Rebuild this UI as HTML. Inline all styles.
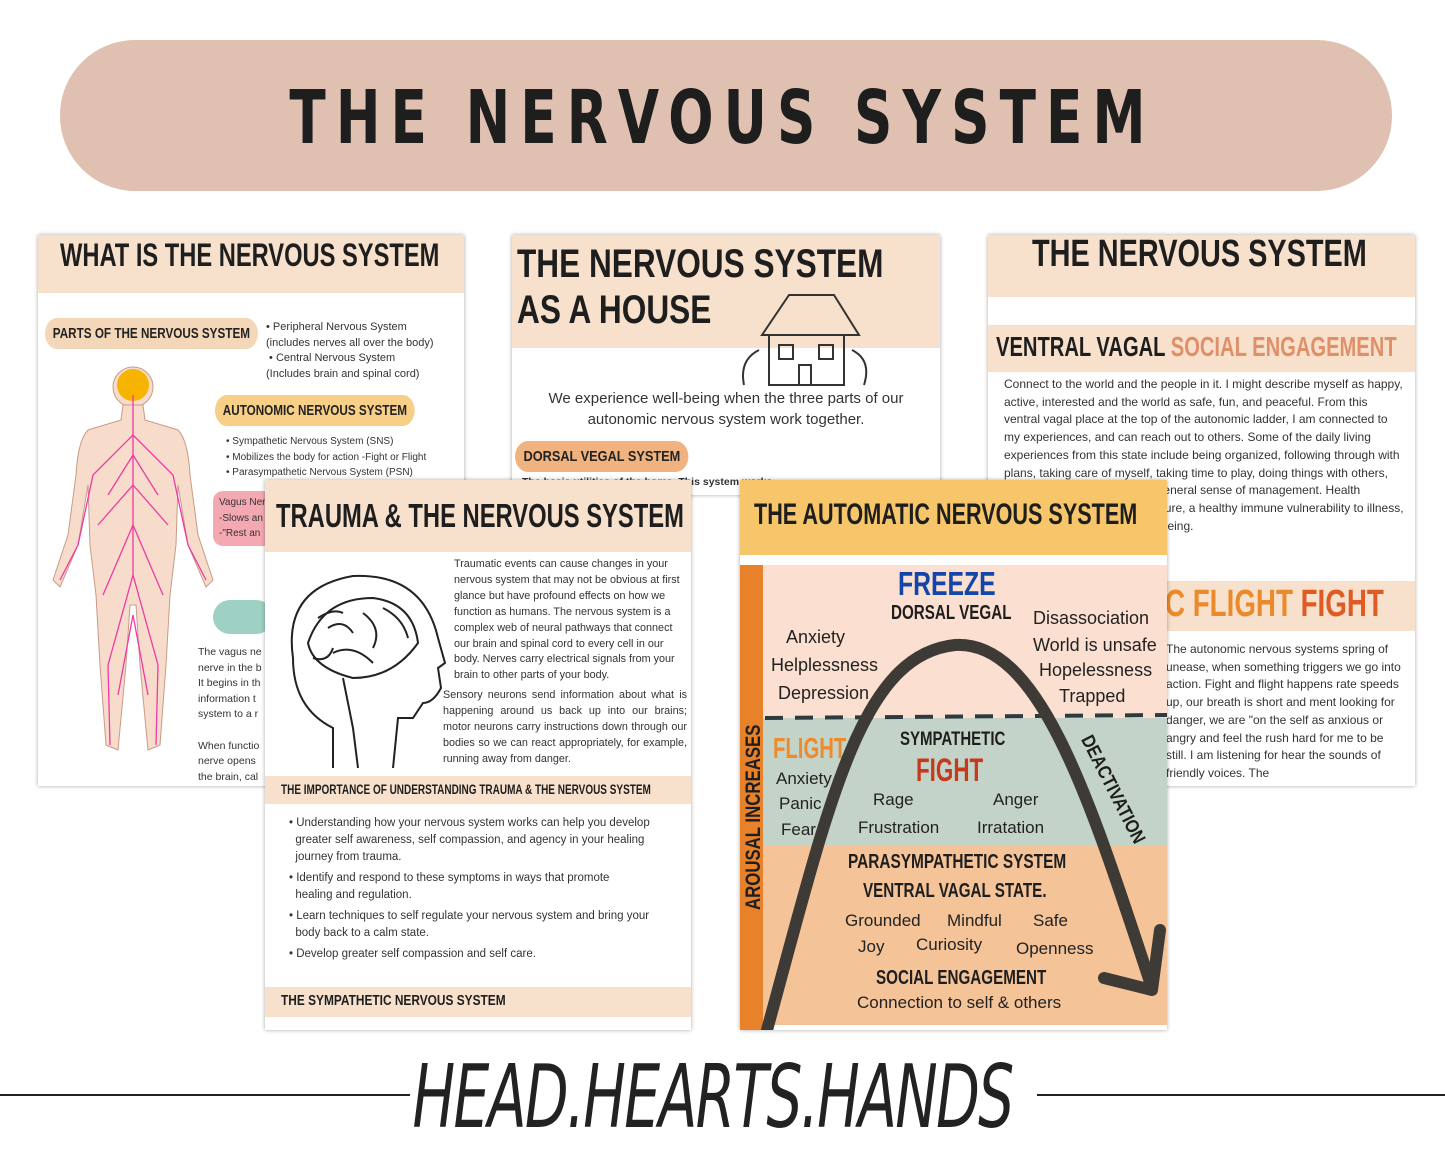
<!DOCTYPE html>
<html><head><meta charset="utf-8"><style>
*{margin:0;padding:0;box-sizing:border-box}
body{width:1445px;height:1156px;background:#fff;position:relative;overflow:hidden;font-family:"Liberation Sans",sans-serif;color:#222}
.a{position:absolute}
.card{position:absolute;background:#fff;box-shadow:0 0 4px rgba(0,0,0,.35);overflow:hidden}
.h{font-family:"Liberation Sans",sans-serif;font-weight:bold;color:#1e1e1e;white-space:nowrap;transform-origin:0 0}
.t{font-size:11px;line-height:15.6px;color:#333}
.pill{position:absolute;border-radius:16px;background:#f7cf86;font-family:"Liberation Sans",sans-serif;font-weight:bold;font-size:15px;padding:7px 10px;white-space:nowrap;transform-origin:0 0}
.w{position:absolute;font-size:18px;color:#222;white-space:nowrap}
</style></head><body>

<div class="a" style="left:60px;top:40px;width:1332px;height:151px;border-radius:75px;background:#e0c1b1"></div>
<div class="a" style="left:0;top:75px;width:1445px;text-align:center;font-size:74px;letter-spacing:14px;font-weight:bold;color:#1e1e1e;font-family:'DejaVu Sans','Liberation Sans',sans-serif;transform:scaleX(.72);white-space:nowrap">THE NERVOUS SYSTEM</div>

<!-- card 1 -->
<div class="card" style="left:38px;top:235px;width:426px;height:551px">
 <div class="a" style="left:0;top:0;width:426px;height:58px;background:#f7e1cc"></div>
 <div class="a h" style="left:22px;top:2px;font-size:32px;transform:scaleX(.74)">WHAT IS THE NERVOUS SYSTEM</div>
 <div class="pill" style="left:7px;top:83px;background:#f4d7b9;transform:scaleX(.78)">PARTS OF THE NERVOUS SYSTEM</div>
 <div class="a t" style="left:228px;top:85px">• Peripheral Nervous System<br>(includes nerves all over the body)<br>&nbsp;• Central Nervous System<br>(Includes brain and spinal cord)</div>
 <div class="pill" style="left:177px;top:160px;transform:scaleX(.78)">AUTONOMIC NERVOUS SYSTEM</div>
 <div class="a t" style="left:188px;top:199px;font-size:10px">• Sympathetic Nervous System (SNS)<br>• Mobilizes the body for action -Fight or Flight<br>• Parasympathetic Nervous System (PSN)</div>
 <div class="a" style="left:175px;top:256px;width:60px;height:55px;background:#f4a9b2;border-radius:10px"></div>
 <div class="a t" style="left:181px;top:260px;font-size:10px">Vagus Ner<br>-Slows an<br>-"Rest an</div>
 <div class="a" style="left:175px;top:365px;width:60px;height:34px;background:#9fd0c4;border-radius:17px"></div>
 <div class="a t" style="left:160px;top:410px;font-size:10.5px">The vagus ne<br>nerve in the b<br>It begins in th<br>information t<br>system to a r<br><br>When functio<br>nerve opens<br>the brain, cal</div>
 <svg class="a" style="left:10px;top:130px" width="170" height="400" viewBox="0 0 170 400">
  <g fill="#f8dccb" stroke="#c89a88" stroke-width="1">
   <circle cx="85" cy="22" r="20"/>
   <path d="M75 40 L95 40 L97 55 L130 65 Q140 75 142 110 L150 170 L165 215 L158 222 L140 180 L130 120 L128 180 L122 230 L118 300 L112 380 L100 385 L92 300 L88 240 L82 240 L78 300 L70 385 L58 380 L52 300 L48 230 L42 180 L40 120 L30 180 L12 222 L5 215 L20 170 L28 110 Q30 75 40 65 L73 55 Z"/>
  </g>
  <circle cx="85" cy="20" r="16" fill="#f6b400"/>
  <g stroke="#ec3aa6" stroke-width="1.3" fill="none">
   <path d="M85 30 L85 210"/>
   <path d="M85 70 L45 110 L30 180 L12 215 M85 70 L125 110 L140 180 L158 215 M85 210 L60 300 L62 380 M85 210 L110 300 L108 380 M85 120 L50 160 M85 120 L120 160 M85 160 L55 230 M85 160 L115 230 M85 90 L60 130 M85 90 L110 130 M85 250 L70 330 M85 250 L100 330"/>
  </g>
 </svg>
</div>

<!-- card 2 -->
<div class="card" style="left:512px;top:235px;width:428px;height:260px">
 <div class="a" style="left:0;top:0;width:428px;height:113px;background:#f7e1cc"></div>
 <div class="a h" style="left:5px;top:6px;font-size:40px;line-height:46px;transform:scaleX(.79)">THE NERVOUS SYSTEM<br>AS A HOUSE</div>
 <svg class="a" style="left:222px;top:55px" width="140" height="100"><g fill="none" stroke="#333" stroke-width="2"><path d="M28 45 L55 5 L100 5 L125 45 Z M35 45 L35 95 L110 95 L110 45"/><rect x="45" y="55" width="14" height="14"/><rect x="85" y="55" width="14" height="14"/><rect x="65" y="75" width="12" height="20"/><path d="M10 95 Q5 70 25 60 M130 95 Q138 70 118 60"/></g></svg>
 <div class="a" style="left:0;top:153px;width:428px;text-align:center;font-size:15px;line-height:21px;color:#333">We experience well-being when the three parts of our<br>autonomic nervous system work together.</div>
 <div class="pill" style="left:3px;top:206px;background:#f0b27e;transform:scaleX(.85)">DORSAL VEGAL SYSTEM</div>
 <div class="a t" style="left:10px;top:240px;font-size:10.5px;font-weight:bold">The basic utilities of the home. This system works</div>
</div>

<!-- card 3 -->
<div class="card" style="left:988px;top:235px;width:427px;height:551px">
 <div class="a" style="left:0;top:0;width:427px;height:62px;background:#f7e1cc"></div>
 <div class="a h" style="left:44px;top:-2px;font-size:38px;transform:scaleX(.76)">THE NERVOUS SYSTEM</div>
 <div class="a" style="left:0;top:90px;width:427px;height:47px;background:#f7e1cc"></div>
 <div class="a h" style="left:8px;top:96px;font-size:28px;transform:scaleX(.72)">VENTRAL VAGAL <span style="color:#e09069">SOCIAL ENGAGEMENT</span></div>
 <div class="a t" style="left:16px;top:141px;font-size:12px;line-height:17.7px;width:400px">Connect to the world and the people in it. I might describe myself as happy, active, interested and the world as safe, fun, and peaceful. From this ventral vagal place at the top of the autonomic ladder, I am connected to my experiences, and can reach out to others. Some of the daily living experiences from this state include being organized, following through with plans, taking care of myself, taking time to play, doing things with others, feeling productive at work, a general sense of management. Health benefits regulated blood pressure, a healthy immune vulnerability to illness, good digestion, quality of wellbeing.</div>
 <div class="a" style="left:0;top:346px;width:427px;height:50px;background:#f7e1cc"></div>
 <div class="a h" style="left:177px;top:348px;font-size:38px;color:#ea8a2a;transform:scaleX(.73)">C FLIGHT <span style="color:#e05a24">FIGHT</span></div>
 <div class="a t" style="left:178px;top:406px;font-size:12px;line-height:17.7px;width:240px">The autonomic nervous systems spring of unease, when something triggers we go into action. Fight and flight happens rate speeds up, our breath is short and ment looking for danger, we are "on the self as anxious or angry and feel the rush hard for me to be still. I am listening for hear the sounds of friendly voices. The</div>
</div>

<!-- card 4 -->
<div class="card" style="left:265px;top:480px;width:426px;height:550px">
 <div class="a" style="left:0;top:0;width:426px;height:72px;background:#f7e1cc"></div>
 <div class="a h" style="left:11px;top:17px;font-size:33px;transform:scaleX(.72)">TRAUMA &amp; THE NERVOUS SYSTEM</div>
 <svg class="a" style="left:8px;top:88px" width="180" height="200"><g fill="none" stroke="#222" stroke-width="2"><path d="M20 90 Q10 20 80 8 Q150 5 165 70 L172 95 L165 100 L168 120 Q160 135 150 135 L140 150 L125 150 L120 200"/><path d="M60 200 L60 160 Q20 140 20 90"/><path d="M35 75 Q50 30 100 30 Q140 35 145 75 Q120 110 80 110 Q40 100 35 75Z"/><path d="M55 60 Q70 50 80 65 M90 45 Q110 60 100 80 M60 85 Q80 75 100 95 M70 110 L80 160 L85 200 M45 50 Q60 40 70 45 M110 40 Q130 50 135 70 M40 90 Q55 95 60 80"/></g></svg>
 <div class="a t" style="left:189px;top:77px;font-size:10.8px;line-height:15.9px;width:232px">Traumatic events can cause changes in your nervous system that may not be obvious at first glance but have profound effects on how we function as humans. The nervous system is a complex web of neural pathways that connect our brain and spinal cord to every cell in our body. Nerves carry electrical signals from your brain to other parts of your body.</div>
 <div class="a t" style="left:178px;top:208px;font-size:10.8px;line-height:15.9px;width:244px;text-align:justify">Sensory neurons send information about what is happening around us back up into our brains; motor neurons carry instructions down through our bodies so we can react appropriately, for example, running away from danger.</div>
 <div class="a" style="left:0;top:296px;width:426px;height:28px;background:#f7e1cc"></div>
 <div class="a h" style="left:16px;top:302px;font-size:13.5px;transform:scaleX(.74)">THE IMPORTANCE OF UNDERSTANDING TRAUMA &amp; THE NERVOUS SYSTEM</div>
 <div class="a t" style="left:24px;top:335px;font-size:11.5px;line-height:17px;width:395px">• Understanding how your nervous system works can help you develop<br>&nbsp;&nbsp;greater self awareness, self compassion, and agency in your healing<br>&nbsp;&nbsp;journey from trauma.<br><div style="height:4px"></div>• Identify and respond to these symptoms in ways that promote<br>&nbsp;&nbsp;healing and regulation.<br><div style="height:4px"></div>• Learn techniques to self regulate your nervous system and bring your<br>&nbsp;&nbsp;body back to a calm state.<br><div style="height:4px"></div>• Develop greater self compassion and self care.</div>
 <div class="a" style="left:0;top:507px;width:426px;height:30px;background:#f7e1cc"></div>
 <div class="a h" style="left:16px;top:513px;font-size:14.5px;transform:scaleX(.82)">THE SYMPATHETIC NERVOUS SYSTEM</div>
</div>

<!-- card 5 -->
<div class="card" style="left:740px;top:480px;width:427px;height:550px">
 <div class="a" style="left:0;top:0;width:427px;height:75px;background:#f8c66a"></div>
 <div class="a h" style="left:14px;top:18px;font-size:30px;transform:scaleX(.72)">THE AUTOMATIC NERVOUS SYSTEM</div>
 <div class="a" style="left:0;top:85px;width:427px;height:153px;background:#fbe0d1"></div>
 <div class="a" style="left:0;top:238px;width:427px;height:127px;background:#c4d3c8"></div>
 <div class="a" style="left:0;top:365px;width:427px;height:180px;background:#f4c398"></div>
 <div class="a" style="left:0;top:85px;width:23px;height:465px;background:#e7822a"></div>
 <div class="a h" style="left:2px;top:430px;font-size:21px;transform:rotate(-90deg) scaleX(.8)">AROUSAL INCREASES</div>
 <svg class="a" style="left:0;top:0" width="427" height="550">
  <line x1="25" y1="238" x2="427" y2="235" stroke="#2d3a40" stroke-width="4" stroke-dasharray="18,12"/>
  <path d="M27 550 C 90 320, 120 175, 215 165 C 300 160, 350 320, 412 508" fill="none" stroke="#3e3a36" stroke-width="12" stroke-linecap="round"/>
  <path d="M364 498 L412 510 L420 450" fill="none" stroke="#3e3a36" stroke-width="12" stroke-linecap="round" stroke-linejoin="round"/>
 </svg>
 <div class="a h" style="left:158px;top:85px;font-size:33px;color:#1346a8;transform:scaleX(.75)">FREEZE</div>
 <div class="a h" style="left:151px;top:122px;font-size:20px;transform:scaleX(.76)">DORSAL VEGAL</div>
 <div class="w" style="left:46px;top:147px">Anxiety</div>
 <div class="w" style="left:31px;top:175px">Helplessness</div>
 <div class="w" style="left:38px;top:203px">Depression</div>
 <div class="w" style="left:293px;top:128px">Disassociation</div>
 <div class="w" style="left:293px;top:155px">World is unsafe</div>
 <div class="w" style="left:299px;top:180px">Hopelessness</div>
 <div class="w" style="left:319px;top:206px">Trapped</div>
 <div class="a h" style="left:33px;top:253px;font-size:29px;color:#ee8a2e;transform:scaleX(.7)">FLIGHT</div>
 <div class="w" style="left:36px;top:289px;font-size:17px">Anxiety</div>
 <div class="w" style="left:39px;top:314px;font-size:17px">Panic</div>
 <div class="w" style="left:41px;top:340px;font-size:17px">Fear</div>
 <div class="a h" style="left:160px;top:249px;font-size:19px;transform:scaleX(.79)">SYMPATHETIC</div>
 <div class="a h" style="left:176px;top:272px;font-size:32px;color:#c53a1c;transform:scaleX(.7)">FIGHT</div>
 <div class="w" style="left:133px;top:310px;font-size:17px">Rage</div>
 <div class="w" style="left:253px;top:310px;font-size:17px">Anger</div>
 <div class="w" style="left:118px;top:338px;font-size:17px">Frustration</div>
 <div class="w" style="left:237px;top:338px;font-size:17px">Irratation</div>
 <div class="a h" style="left:355px;top:252px;font-size:19px;transform:rotate(63deg) scaleX(.85)">DEACTIVATION</div>
 <div class="a h" style="left:108px;top:371px;font-size:20px;transform:scaleX(.77)">PARASYMPATHETIC SYSTEM</div>
 <div class="a h" style="left:123px;top:400px;font-size:20px;transform:scaleX(.76)">VENTRAL VAGAL STATE.</div>
 <div class="w" style="left:105px;top:431px;font-size:17px">Grounded</div>
 <div class="w" style="left:207px;top:431px;font-size:17px">Mindful</div>
 <div class="w" style="left:293px;top:431px;font-size:17px">Safe</div>
 <div class="w" style="left:118px;top:457px;font-size:17px">Joy</div>
 <div class="w" style="left:176px;top:455px;font-size:17px">Curiosity</div>
 <div class="w" style="left:276px;top:459px;font-size:17px">Openness</div>
 <div class="a h" style="left:136px;top:487px;font-size:20px;transform:scaleX(.76)">SOCIAL ENGAGEMENT</div>
 <div class="w" style="left:117px;top:513px;font-size:17px">Connection to self &amp; others</div>
</div>

<!-- footer -->
<div class="a" style="left:0;top:1094px;width:410px;height:2px;background:#222"></div>
<div class="a" style="left:1037px;top:1094px;width:408px;height:2px;background:#222"></div>
<div class="a" style="left:-10px;top:1052px;width:1445px;text-align:center;font-family:'DejaVu Sans Condensed','Liberation Sans Narrow',sans-serif;font-size:76px;font-style:italic;color:#222;letter-spacing:-2px;transform:scale(.83,1.15);white-space:nowrap">HEAD.HEARTS.HANDS</div>
</body></html>
